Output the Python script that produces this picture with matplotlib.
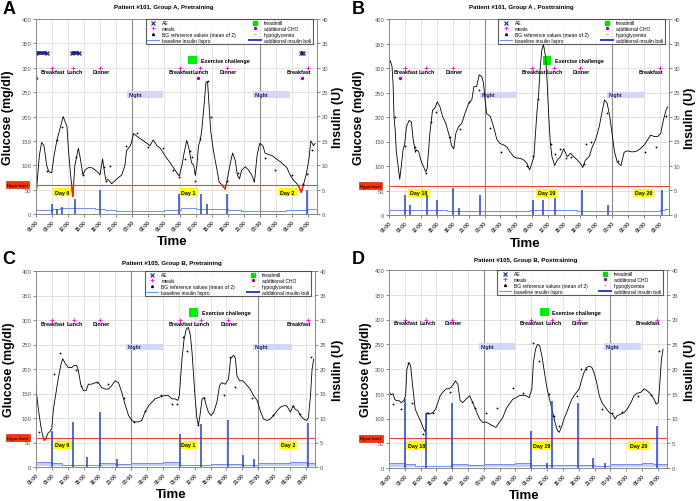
import numpy as np
import matplotlib
matplotlib.use('Agg')
import matplotlib.pyplot as plt
from matplotlib.patches import Rectangle
from matplotlib.lines import Line2D
from matplotlib.transforms import blended_transform_factory

plt.rcParams['font.family'] = ['Liberation Sans', 'DejaVu Sans']

# ---------------- data ----------------
time_ticks_h = list(range(0, 52, 3))
time_labels = ['06:00', '09:00', '12:00', '15:00', '18:00', '21:00', '00:00', '03:00', '06:00',
               '09:00', '12:00', '15:00', '18:00', '21:00', '00:00', '03:00', '06:00', '09:00']
meal_names = ['Breakfast', 'Lunch', 'Dinner', 'Breakfast', 'Lunch', 'Dinner', 'Breakfast']

# Panel A
a_title = 'Patient #101, Group A, Pretraining'
a_days = ['Day 0', 'Day 1', 'Day 2']
a_glu_t = [0.0,0.25,0.63,1.06,1.5,2.0,2.3,2.63,2.94,3.4, 3.9,4.5,5.1,5.8,6.1,6.5,6.9,7.3,7.95,8.3,
           8.8,9.2,9.8,10.5,11.1,11.7,12.0,12.5,12.8,13.1, 13.6,14.2,14.8,15.5,16.1,16.7,17.0,17.7,18.0,18.3,
           18.9,19.5,20.2,20.8,21.4,22.0,22.7,23.3,23.9,24.5, 25.2,25.8,26.4,26.9,27.4,27.8,28.3,28.7,29.2,29.6,
           29.9,30.2,30.5,30.8,31.1,31.6,31.9,32.2,32.5,32.8, 33.3,33.9,34.4,34.9,35.5,35.8,36.4,36.9,37.4,37.8,
           38.2,38.6,39.3,39.9,40.5,41.0,41.5,42.0,42.6,43.0, 43.6,44.3,44.9,45.5,46.1,47.1,47.7,48.3,49.0,49.4,
           49.8,50.2,50.7,51.2,51.6,52.1,52.4]
a_glu_v = [40,70,120,147,140,100,90,85,85,120, 150,175,200,180,130,80,35,100,135,115,
           80,90,95,95,90,85,80,113,90,70, 70,62,68,75,80,100,130,140,150,165,
           160,155,150,145,140,152,140,135,125,115, 105,95,85,78,100,125,151,135,105,100,
           79,100,140,150,170,230,270,272,220,170, 130,95,65,60,51,65,100,125,110,80,
           72,90,97,90,80,65,120,145,140,125, 122,120,115,110,105,95,80,70,62,55,
           44,60,80,110,150,140,145]
a_bg_t = [2.0,3.9,4.9,7.6,8.9,12.8,13.9,13.1,16.9,18.9, 21.0,23.9,25.8,26.9,27.9,28.9,29.2,29.9,30.7,32.2,
          32.8,35.8,37.9,42.9,44.9,48.0,50.1,50.8,51.9]
a_bg_v = [89,152,178,116,79,96,99,68,140,167, 137,135,90,75,113,130,116,68,154,273,
          200,68,85,114,91,80,62,82,132]
a_meal_t = [3, 7, 12, 27, 30.8, 35.8, 51]
a_cho_t = [0, 30.5, 49.9]
a_cho_v = [280, 280, 280]
a_ae_start = [0, 6.7, 49.7]
a_ae_end = [2.0, 8.1, 50.1]
a_bol_t = [2.94, 4.0, 4.9, 7.3, 12.0, 26.9, 31.0, 32.1, 35.9, 50.8]
a_bol_v = [2, 1, 1.5, 3, 5, 4, 4, 2, 4, 5]
a_base_t = [0,3,4.5,7.5,11,13,15,18,21,24,27.2,30,36,38.5,41.5,45,47,51,52.75]
a_base_v = [0.9,1.0,1.2,1.2,1.1,0.9,0.7,0.6,0.7,0.8,1.2,1.1,0.9,0.7,0.6,0.7,0.8,1.0,1.0]
a_ex_t = 29.4
a_night_start = [17.0, 40.8]
a_night_end = [23.9, 47.7]
a_day_t = [4.9, 28.6, 47.2]

# Panel B
b_title = 'Patient #101, Group A , Posttraining'
b_days = ['Day 18', 'Day 19', 'Day 20']
b_glu_t = [0,0.25,0.57,0.76,0.95,1.2,1.39,1.7,2.02,2.33, 2.65,2.97,3.28,3.79,4.23,4.54,4.98,5.17,5.6,6.0,
           6.4,6.94,7.2,7.7,8.2,8.64,9.1,9.6,10.1,10.7, 11.4,11.8,12.2,12.6,13.1,13.7,14.3,15.0,15.6,16.0,
           16.5,17.0,17.5,17.8,18.1,18.4,19.1,19.7,20.3,20.9, 21.6,22.2,22.8,23.5,24.1,24.7,25.4,26.0,26.5,26.9,
           27.3,27.6,27.9,28.2,28.5,28.8,29.1,29.5,29.8,30.1, 30.4,30.7,31.2,31.7,32.3,32.9,33.6,34.2,34.8,35.5,
           36.1,36.5,37.0,37.7,38.3,38.9,39.6,40.2,40.6,41.1, 41.6,42.1,42.5,43.0,43.7,44.3,44.9,45.6,46.2,46.8,
           47.4,48.1,48.7,49.3,50.0,50.6,51.2,51.7,52.2,52.5]
b_glu_v = [310,315,303,269,201,167,128,101,73,101, 133,146,180,193,190,155,128,133,129,112,
           101,88,95,167,214,218,231,221,201,187, 160,141,135,167,180,187,207,228,235,262,
           262,286,282,269,235,207,201,180,155,146, 143,139,129,119,116,116,112,105,92,105,
           119,167,214,248,303,337,348,323,269,201, 146,119,101,112,119,135,119,126,119,112,
           105,97,112,119,139,153,180,214,235,228, 201,160,128,108,101,128,131,129,129,131,
           136,143,153,163,160,160,167,194,214,221]
b_bg_t = [1.07,2.97,4.86,6.94,7.9,8.8,11.5,13.4,15.1,17.0, 19.05,21.1,26.0,27.1,28.1,30.5,31.2,32.2,33.4,34.2,
          36.7,37.2,38.1,41.1,43.2,48.3,50.3,52.2]
b_bg_v = [201,141,138,85,190,211,160,175,230,256, 177,129,101,120,236,145,125,135,116,118,
          104,144,150,209,111,128,138,203]
b_meal_t = [3, 7, 12, 27, 31, 36, 51.1]
b_cho_t = [2.0]
b_cho_v = [280]
b_bol_t = [2.97, 4.04, 7.07, 9.1, 12.0, 13.2, 17.2, 27.1, 29.1, 31.2, 36.3, 41.3, 51.4]
b_bol_v = [4, 2, 4, 3, 5.6, 1.5, 4, 3, 3, 3.5, 5, 2, 5]
b_base_t = [0, 11, 12.5, 26.6, 35.5, 36.5, 44, 51, 52, 52.75]
b_base_v = [1.0, 0.9, 0.8, 1.1, 0.9, 0.8, 0.9, 1.0, 1.2, 1.2]
b_ex_t = 29.8
b_night_start = [17.2, 41.1]
b_night_end = [24.2, 48.2]
b_day_t = [5.5, 29.7, 48.0]

# Panel C
c_title = 'Patient #105, Group B, Pretraining'
c_days = ['Day 0', 'Day 1', 'Day 2']
c_glu_t = [0,0.44,0.88,1.26,1.58,1.9,2.2,2.5,2.97,3.3, 3.8,4.2,4.67,5.05,5.5,6.1,6.75,7.2,7.7,8.0,
           8.45,8.96,9.46,9.9,10.5,11.2,11.8,12.4,13.1,13.7, 14.3,14.95,15.6,16.2,16.8,17.5,18.1,18.7,19.4,20.0,
           20.6,21.3,21.9,22.5,23.2,23.8,24.4,25.0,25.7,26.3, 26.8,27.1,27.6,28.0,28.4,28.8,29.2,29.5,29.8,30.1,
           30.4,30.7,31.0,31.4,31.8,32.2,32.6,33.1,33.6,34.2, 34.7,35.1,35.8,36.4,36.8,37.4,37.7,38.0,38.5,39.1,
           39.7,40.5,41.1,41.8,42.4,43.0,43.7,44.3,44.9,45.6, 46.2,46.8,47.4,48.1,48.6,49.0,49.5,50.0,50.6,51.2,
           51.5,51.9,52.2,52.5]
c_glu_v = [159,119,85,64,54,58,68,71,78,119, 153,180,207,221,212,203,203,207,207,197,
           169,156,156,169,169,172,172,162,159,159, 166,176,172,153,129,105,95,92,92,95,
           112,125,132,139,142,144,146,146,139,139, 136,146,221,261,281,285,268,234,186,139,
           102,85,105,139,142,125,112,105,112,132, 166,172,169,180,221,228,221,186,176,176,
           169,159,146,136,115,98,95,98,105,115, 122,125,125,112,125,118,115,105,98,95,
           100,146,200,220]
c_bg_t = [0.63,3.47,4.54,7.57,8.5,11.5,13.6,16.7,18.6,20.6, 23.7,25.7,26.6,27.7,28.6,30.7,31.7,35.6,36.6,37.7,
          40.8,44.8,48.5,50.0,51.9]
c_bg_v = [72,190,233,197,166,174,169,140,92,115, 146,129,129,265,236,85,141,147,224,164,
          140,107,125,109,224]
c_meal_t = [3, 7.1, 12.1, 27.2, 31.2, 36.3, 51.4]
c_bol_t = [2.97, 7.07, 9.7, 12.1, 15.3, 27.3, 31.2, 36.3, 39.1, 41.3, 51.4]
c_bol_v = [7.3, 9.2, 2, 11.2, 1.6, 6.8, 8.8, 9.5, 2.5, 1.6, 9]
c_base_t = [0, 3, 5, 12, 15, 18, 24, 27, 33, 39, 42, 48, 51, 52.75]
c_base_v = [1.0, 0.8, 0.5, 0.8, 0.6, 0.9, 1.0, 0.5, 0.7, 0.5, 0.9, 1.0, 0.8, 0.8]
c_ex_t = 29.8
c_night_start = [17.0, 41.1]
c_night_end = [24.1, 48.4]
c_day_t = [5.0, 28.8, 47.6]

# Panel D
d_title = 'Patient #105, Group B, Posttraining'
d_days = ['Day 18', 'Day 19', 'Day 20']
d_glu_t = [0,0.44,0.76,1.07,1.39,1.9,2.33,2.78,3.15,3.4, 3.79,4.1,4.54,4.98,5.5,6.1,6.56,6.94,7.2,7.7,
           8.33,8.83,9.27,9.7,10.2,10.85,11.36,11.8,12.2,12.6, 13.06,13.5,14.0,14.6,15.3,15.9,16.5,17.2,17.8,18.4,
           19.05,19.7,20.3,20.9,21.6,22.2,22.8,23.5,24.1,24.7, 25.4,26.0,26.6,27.1,27.4,27.8,28.2,28.6,29.0,29.5,
           29.9,30.3,30.7,31.2,31.5,32.0,32.3,32.8,33.2,33.7, 34.2,34.7,35.1,35.6,36.1,36.5,37.0,37.5,38.0,38.5,
           38.9,39.4,39.9,40.4,40.8,41.3,41.8,42.4,42.9,43.3, 44.0,44.6,45.2,45.9,46.5,47.1,47.8,48.4,49.0,49.7,
           50.3,50.7,51.1,51.4,51.7,52.0]
d_glu_v = [153,148,150,139,136,136,132,136,146,200, 213,207,160,119,106,92,79,72,112,109,
           112,119,132,146,153,160,160,163,169,176, 169,136,132,139,146,132,116,99,92,93,
           89,85,82,92,102,119,129,139,142,146, 147,146,142,160,213,240,250,247,227,193,
           166,146,129,106,92,75,72,85,99,112, 126,139,146,153,160,176,193,203,206,203,
           193,173,146,132,126,119,112,109,99,106, 109,112,119,132,146,151,153,160,156,149,
           139,129,132,173,220,240]
d_bg_t = [0.76,2.33,3.6,4.4,6.4,7.4,8.3,11.5,15.8,16.4, 18.4,20.5,23.5,25.5,27.4,28.4,30.4,31.4,32.3,35.6,
          36.4,37.4,40.5,42.4,44.3,47.3,49.7,51.2]
d_bg_v = [130,119,213,132,69,112,112,153,133,122, 112,122,161,151,253,217,149,106,85,146,
          201,200,119,111,114,146,147,237]
d_meal_t = [3.05, 7.1, 12, 27, 31, 36, 50.9]
d_bol_t = [3.1, 7.07, 12.0, 27.0, 30.0, 30.9, 35.8, 38.8, 40.9, 50.9]
d_bol_v = [13.9, 11.2, 13.1, 7.5, 1.1, 13.6, 13.2, 2, 1, 8.5]
d_base_t = [0, 3, 5, 12, 15, 18, 24, 27, 33, 39, 42, 48, 50, 52.75]
d_base_v = [1.0, 0.9, 0.5, 0.8, 0.6, 0.8, 1.0, 0.6, 0.7, 0.5, 0.8, 1.0, 0.9, 0.9]
d_ex_t = 29.5
d_night_start = [17.0, 40.8]
d_night_end = [23.9, 47.9]
d_day_t = [5.2, 29.0, 47.4]

# ---------------- styles ----------------
C_GLU = 'black'
C_HYPO = '#ff2200'
C_BOL = '#2443cc'
C_BASE = '#7090ee'
C_BASEFILL = '#c4cff6'
C_NIGHT = '#d3d6f6'
C_MEAL = '#ff00ff'
C_CHO = '#9a00b0'
C_AE = '#1a2a82'
C_EX = '#00ee00'
XMAX = 52.75


def draw_panel(fig, rect, letter, letter_xy, title, title_xy, days, glu_t, glu_v, bg_t, bg_v,
               meal_t, cho_t, cho_v, ae_start, ae_end, bol_t, bol_v, base_t, base_v,
               ex_t, night_start, night_end, day_t, fill_base, ylab_x, ylab2_x, xlab_y):
    ax = fig.add_axes(rect)
    ax.set_xlim(0, XMAX)
    ax.set_ylim(0, 400)
    ax.set_yticks(range(0, 401, 50))
    ax.set_xticks(time_ticks_h)
    ax.set_xticklabels(time_labels, rotation=45, ha='right', rotation_mode='anchor',
                       fontsize=3.6, fontweight='bold')
    ax.tick_params(axis='both', length=2, width=0.5, color='#555', pad=1.5)
    ax.tick_params(axis='y', labelsize=4.2, labelcolor='#555')
    ax.tick_params(axis='x', labelcolor='#333')
    for s in ax.spines.values():
        s.set_color('#888')
        s.set_linewidth(0.6)
    for y in range(50, 400, 50):
        ax.axhline(y, color='#dadada', lw=0.6, zorder=0)
    for h in time_ticks_h[1:]:
        ax.axvline(h, color='#dedede', lw=0.6, zorder=0)
    for h in (18, 42):
        ax.axvline(h, color='#8a8a8a', lw=0.8, zorder=0.5)

    # hypo level
    ax.axhline(60, color='#ee4433', lw=0.8, zorder=1)
    tr = blended_transform_factory(ax.transAxes, ax.transData)
    ax.text(-0.066, 60, 'Hypo level', transform=tr, ha='center', va='center', fontsize=3.1,
            fontweight='bold', color='#330000',
            bbox=dict(boxstyle='square,pad=0.35', fc='#ff3300', ec='#bb1100', lw=0.4))

    # nights
    for t0, t1 in zip(night_start, night_end):
        ax.add_patch(Rectangle((t0, 238), t1 - t0, 14, fc=C_NIGHT, ec='none', zorder=1))
        ax.text(t0 + 0.3, 245, 'Night', fontsize=3.8, fontweight='bold', color='#22225a',
                va='center', ha='left', zorder=2)

    # days
    for t, dname in zip(day_t, days):
        ax.text(t, 45, dname, ha='center', va='center', fontsize=3.9, fontweight='bold',
                bbox=dict(boxstyle='square,pad=0.35', fc='#ffff00', ec='none'), zorder=2)

    # meals
    ax.plot(meal_t, [300] * len(meal_t), '+', color=C_MEAL, ms=2.8, mew=0.6, zorder=3)
    for i, (t, name) in enumerate(zip(meal_t, meal_names)):
        if i == len(meal_t) - 1:
            ax.text(t + 0.6, 293, name, ha='right', va='center', fontsize=3.9, fontweight='bold')
        else:
            ax.text(t + 0.2, 293, name, ha='center', va='center', fontsize=3.9, fontweight='bold')

    # additional CHO
    if len(cho_t):
        ax.plot(cho_t, cho_v, 'o', color=C_CHO, ms=1.4, zorder=3)

    # AE
    for t0, t1 in zip(ae_start, ae_end):
        ax.plot([t0, t1], [330, 330], color=C_AE, lw=2.6, solid_capstyle='butt', zorder=3)
        ax.plot([t0, t1], [330, 330], 'x', color=C_AE, ms=2.6, mew=0.9, zorder=3)

    # exercise challenge
    ax.add_patch(Rectangle((ex_t - 0.8, 307), 1.6, 17, fc=C_EX, ec='none', zorder=2))
    ax.text(ex_t + 1.5, 315, 'Exercise challenge', fontsize=3.9, fontweight='bold',
            va='center', ha='left')

    # glucose
    ax.plot(glu_t, glu_v, color=C_GLU, lw=0.6, zorder=4)
    td = np.linspace(glu_t[0], glu_t[-1], 4000)
    vd = np.interp(td, glu_t, glu_v)
    ax.plot(td, np.where(vd < 60, vd, np.nan), color=C_HYPO, lw=1.0, zorder=4.5)
    ax.plot(bg_t, bg_v, 'o', color='black', ms=1.3, mew=0, zorder=5)

    ax.set_ylabel('Glucose (mg/dl)', fontsize=9, fontweight='bold')
    ax.yaxis.set_label_coords(ylab_x, 0.5)
    ax.set_xlabel('Time', fontsize=9.5, fontweight='bold')
    ax.xaxis.set_label_coords(0.485, xlab_y)

    # insulin axis
    ax2 = ax.twinx()
    ax2.set_ylim(0, 40)
    ax2.set_yticks(range(0, 41, 5))
    ax2.tick_params(axis='y', length=2, width=0.5, color='#555', pad=1.5, labelsize=4.2,
                    labelcolor='#555')
    for s in ax2.spines.values():
        s.set_color('#888')
        s.set_linewidth(0.6)
    if fill_base:
        ax2.fill_between(base_t, 0.3, base_v, step='post', color=C_BASEFILL, lw=0, zorder=1)
    ax2.step(base_t, base_v, where='post', color=C_BASE, lw=0.7, zorder=2)
    ax2.vlines(bol_t, 0, bol_v, color=C_BOL, lw=1.1, zorder=3)
    ax2.set_ylabel('Insulin (U)', fontsize=9, fontweight='bold', rotation=90)
    ax2.yaxis.set_label_coords(ylab2_x, 0.5)

    handles = [
        Line2D([], [], ls='none', marker='x', color=C_AE, ms=2.4, mew=0.8),
        Line2D([], [], ls='none', marker='+', color=C_MEAL, ms=2.6, mew=0.6),
        Line2D([], [], ls='none', marker='^', color='black', ms=1.4),
        Line2D([], [], color=C_BASE, lw=0.8),
        Line2D([], [], ls='none', marker='s', color='#00dd00', ms=2.2),
        Line2D([], [], ls='none', marker='o', color=C_CHO, ms=1.4),
        Line2D([], [], ls='none', marker='_', color='#ff6a00', ms=2.0, mew=0.6),
        Line2D([], [], color=C_BOL, lw=1.4),
    ]
    labels = ['AE', 'meals', 'BG reference values (mean of 2)', 'baseline insulin lispro',
              'treadmill', 'additional CHO', 'hypoglycemia', 'additional insulin boli']
    leg = ax2.legend(handles, labels, ncol=2, loc='upper left',
                     bbox_to_anchor=(0.39, 1.0, 0.595, 0), mode='expand', fontsize=3.6,
                     frameon=True, fancybox=False, edgecolor='#333', borderpad=0.3,
                     labelspacing=0.14, handlelength=2.4, handletextpad=0.6,
                     borderaxespad=0, columnspacing=1.0)
    leg.get_frame().set_linewidth(0.8)
    leg.set_zorder(10)

    ax.text(title_xy[0], title_xy[1], title, transform=ax.transAxes, ha='center',
            va='center', fontsize=4.4, fontweight='bold')
    fig.text(letter_xy[0], letter_xy[1], letter, fontsize=13, fontweight='bold',
             ha='left', va='top')
    return ax


fig = plt.figure(figsize=(6.99, 5.02), dpi=100)
W, H = 699.0, 502.0


def rect_px(l, r, t, b):
    return [l / W, 1 - b / H, (r - l) / W, (b - t) / H]


draw_panel(fig, rect_px(36, 317, 20, 215), 'A', (0.003, 0.998), a_title, (0.455, 1.065), a_days,
           a_glu_t, a_glu_v, a_bg_t, a_bg_v, a_meal_t, a_cho_t, a_cho_v, a_ae_start, a_ae_end,
           a_bol_t, a_bol_v, a_base_t, a_base_v, a_ex_t, a_night_start, a_night_end, a_day_t,
           False, -0.080, 1.052, -0.11)
draw_panel(fig, rect_px(389, 669, 20, 216), 'B', (0.503, 0.998), b_title, (0.474, 1.065), b_days,
           b_glu_t, b_glu_v, b_bg_t, b_bg_v, b_meal_t, b_cho_t, b_cho_v, [], [],
           b_bol_t, b_bol_v, b_base_t, b_base_v, b_ex_t, b_night_start, b_night_end, b_day_t,
           False, -0.085, 1.055, -0.11)
draw_panel(fig, rect_px(36, 315, 272, 468), 'C', (0.003, 0.5), c_title, (0.486, 1.045), c_days,
           c_glu_t, c_glu_v, c_bg_t, c_bg_v, c_meal_t, [], [], [], [],
           c_bol_t, c_bol_v, c_base_t, c_base_v, c_ex_t, c_night_start, c_night_end, c_day_t,
           True, -0.076, 1.062, -0.105)
draw_panel(fig, rect_px(389, 667, 271, 469), 'D', (0.503, 0.5), d_title, (0.49, 1.055), d_days,
           d_glu_t, d_glu_v, d_bg_t, d_bg_v, d_meal_t, [], [], [], [],
           d_bol_t, d_bol_v, d_base_t, d_base_v, d_ex_t, d_night_start, d_night_end, d_day_t,
           True, -0.062, 1.062, -0.105)

fig.savefig('out.png', dpi=100)
